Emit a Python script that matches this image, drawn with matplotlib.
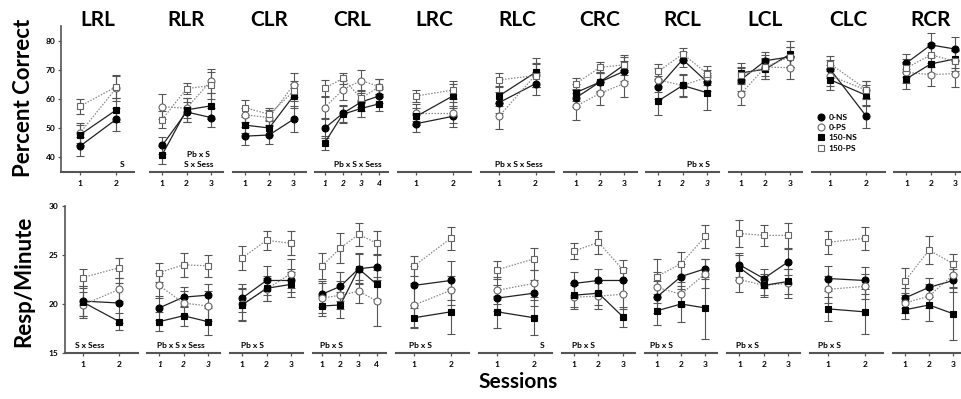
import matplotlib
matplotlib.use("Agg")
import matplotlib.pyplot as plt
from matplotlib.lines import Line2D

plt.rcParams['font.family'] = ['Lato', 'DejaVu Sans']

panels = ["LRL", "RLR", "CLR", "CRL", "LRC", "RLC", "CRC", "RCL", "LCL", "CLC", "RCR"]
series = ["0-NS", "0-PS", "150-NS", "150-PS"]

# Percent correct (top row)
pc_0NS = [[43.8, 53.1], [44.1, 55.6, 53.7], [47.3, 47.7, 53.1], [50.0, 55.1, 59.0, 61.1],
          [51.6, 54.1], [58.8, 65.3], [60.4, 65.9, 69.6], [64.1, 73.6, 65.9],
          [66.7, 73.2, 74.5], [70.4, 54.1], [72.4, 78.6, 77.2]]
pc_0PS = [[48.3, 63.8], [57.4, 56.9, 66.2], [54.6, 53.7, 64.9], [57.1, 63.2, 66.4, 64.3],
          [55.4, 55.4], [54.1, 68.3], [57.5, 62.0, 65.4], [66.6, 64.7, 67.5],
          [61.9, 71.0, 70.8], [68.1, 63.1], [69.2, 68.4, 68.8]]
pc_150NS = [[47.7, 56.3], [40.9, 56.3, 57.7], [51.1, 50.1, 61.1], [44.9, 54.8, 56.8, 58.4],
            [54.1, 61.1], [61.1, 69.2], [62.2, 65.9, 71.8], [59.4, 64.7, 62.2],
            [69.0, 70.3, 75.4], [66.7, 61.3], [67.0, 72.1, 73.8]]
pc_150PS = [[57.5, 64.3], [53.0, 63.6, 64.7], [57.1, 54.8, 62.7], [63.7, 67.1, 60.3, 64.3],
            [61.1, 63.1], [66.6, 68.1], [65.3, 70.9, 71.8], [69.5, 75.5, 68.8],
            [68.2, 71.0, 74.5], [72.2, 63.3], [70.7, 75.2, 73.0]]

pc_err_0NS = [[3.2, 4.0], [2.8, 3.5, 3.3], [3.0, 3.0, 4.5], [3.5, 3.0, 3.0, 2.5], [3.0, 3.5],
              [3.5, 4.0], [3.0, 3.5, 3.5], [4.0, 2.5, 3.0], [4.0, 3.0, 3.5], [3.0, 4.0], [3.0, 4.0, 4.0]]
pc_err_0PS = [[3.5, 4.5], [4.2, 3.5, 4.0], [2.5, 2.5, 4.0], [4.0, 3.5, 3.5, 2.5], [3.0, 3.5],
              [4.5, 4.0], [4.5, 4.0, 4.5], [4.0, 3.5, 2.5], [4.0, 4.0, 4.0], [3.5, 3.0], [3.5, 4.0, 4.5]]
pc_err_150NS = [[3.5, 4.0], [3.0, 4.0, 4.5], [2.8, 2.5, 4.0], [2.5, 3.0, 3.0, 2.5], [3.0, 4.0],
                [3.5, 5.0], [3.0, 3.0, 3.5], [5.0, 4.0, 6.0], [3.5, 3.5, 4.5], [3.5, 3.5], [3.5, 3.0, 3.0]]
pc_err_150PS = [[2.7, 3.8], [3.0, 2.0, 4.5], [2.5, 2.0, 3.5], [3.0, 2.0, 3.0, 2.5], [2.0, 3.0],
                [2.5, 4.0], [2.0, 2.0, 2.5], [2.5, 2.0, 2.5], [3.0, 3.0, 3.5], [2.5, 3.0], [3.0, 4.0, 3.5]]

# Responses per minute (bottom row)
rm_0NS = [[20.3, 20.1], [19.6, 20.7, 20.9], [20.6, 22.4, 22.4], [21.0, 21.8, 23.6, 23.8],
          [21.9, 22.4], [20.6, 21.1], [22.1, 22.4, 22.4], [20.7, 22.8, 23.6],
          [24.0, 22.6, 24.3], [22.6, 22.4], [20.6, 21.7, 22.4]]
rm_0PS = [[19.9, 21.5], [21.9, 20.1, 19.8], [20.0, 21.5, 23.1], [20.6, 20.9, 21.3, 20.3],
          [19.9, 21.4], [21.4, 22.1], [20.7, 20.8, 21.0], [21.7, 21.0, 23.1],
          [22.5, 21.9, 22.1], [21.5, 21.8], [20.1, 20.8, 23.0]]
rm_150NS = [[20.2, 18.2], [18.2, 18.8, 18.2], [19.9, 21.6, 22.0], [19.8, 19.9, 23.6, 22.0],
            [18.6, 19.2], [19.2, 18.6], [20.9, 21.1, 18.7], [19.3, 20.0, 19.6],
            [23.7, 21.9, 22.3], [19.5, 19.2], [19.4, 19.9, 19.0]]
rm_150PS = [[22.7, 23.7], [23.2, 24.0, 23.9], [24.7, 26.5, 26.2], [23.9, 25.7, 27.1, 26.2],
            [23.9, 26.7], [23.5, 24.6], [25.4, 26.3, 23.5], [22.8, 24.1, 26.9],
            [27.2, 27.0, 27.0], [26.3, 26.7], [22.3, 25.5, 24.1]]

rm_err_0NS = [[1.5, 2.0], [1.2, 1.0, 1.1], [1.4, 1.5, 1.2], [1.3, 1.5, 1.5, 1.3], [2.0, 2.0],
              [1.3, 1.3], [1.2, 1.2, 1.3], [1.6, 1.3, 1.0], [1.2, 1.0, 1.3], [1.3, 1.4], [1.0, 1.0, 1.2]]
rm_err_0PS = [[1.3, 1.2], [1.3, 1.2, 1.5], [1.6, 1.2, 1.5], [1.5, 1.4, 1.2, 2.5], [2.2, 1.5],
              [1.4, 1.4], [1.2, 1.3, 1.5], [1.6, 1.2, 1.5], [1.3, 1.0, 1.5], [1.4, 1.3], [1.0, 1.2, 1.4]]
rm_err_150NS = [[1.4, 0.9], [1.0, 1.0, 1.4], [1.6, 1.3, 1.3], [1.0, 1.3, 1.6, 1.5], [1.0, 2.3],
                [1.6, 1.8], [1.2, 1.2, 1.0], [1.4, 1.8, 3.2], [1.3, 1.2, 1.3], [1.2, 2.3], [0.9, 1.6, 2.7]]
rm_err_150PS = [[0.9, 1.0], [1.0, 1.2, 1.1], [1.2, 1.0, 1.2], [1.3, 1.5, 1.2, 1.2], [1.0, 1.2],
                [0.9, 1.1], [0.8, 1.2, 1.0], [1.8, 1.2, 1.2], [1.4, 1.1, 1.3], [1.2, 1.2], [1.4, 1.4, 1.0]]

pc_stats = ["S", "Pb x S\nS x Sess", "", "Pb x S x Sess", "", "Pb x S x Sess", "", "Pb x S", "", "", ""]
rm_stats = ["S x Sess", "Pb x S x Sess", "Pb x S", "Pb x S", "Pb x S", "S", "Pb x S", "Pb x S", "Pb x S", "Pb x S", ""]
pc_italic = [False, False, False, True, False, False, False, True, False, False, False]
rm_italic = [False, True, False, False, False, False, False, False, False, False, False]

# ---------------- layout ----------------
W, H = 962, 399
fig = plt.figure(figsize=(W / 100, H / 100), dpi=100)

top_left = [61.5, 150, 232.7, 315.4, 398.1, 480.8, 563.5, 646.2, 728.9, 811.6, 894.3]
bot_left = [64.5, 147, 230, 313, 396, 479, 562, 644.5, 727.3, 810, 892.5]
pw = 73.0
top_y0, top_y1 = 172.0, 26.3
bot_y0, bot_y1 = 353.0, 206.0

pc_stat_x = [0.83, 0.67, 0.5, 0.58, 0.5, 0.52, 0.5, 0.71, 0.5, 0.5, 0.5]
rm_stat_x = [0.35, 0.47, 0.31, 0.25, 0.34, 0.86, 0.29, 0.23, 0.27, 0.27, 0.5]

styles = {
    "0-NS": dict(marker='o', mfc='black', mec='black', color='#222222', ls='-'),
    "0-PS": dict(marker='o', mfc='white', mec='#666666', color='#888888', ls=(0, (1.2, 1.2))),
    "150-NS": dict(marker='s', mfc='black', mec='black', color='#222222', ls='-'),
    "150-PS": dict(marker='s', mfc='white', mec='#666666', color='#888888', ls=(0, (1.2, 1.2))),
}
ecol = '#555555'
axcol = '#555555'
MS = 5.0


def make_axes(left, y0, y1):
    return fig.add_axes([left / W, 1 - y0 / H, pw / W, (y0 - y1) / H])


def draw_row(lefts, y0, y1, data, errs, ylim, yticks, stats, stat_x, italic):
    axes = []
    for i, name in enumerate(panels):
        ax = make_axes(lefts[i], y0, y1)
        n = len(data[0][i])
        xs = list(range(1, n + 1))
        for s, vals, ee in zip(series, data, errs):
            st = styles[s]
            ax.errorbar(xs, vals[i], yerr=ee[i], fmt='none', ecolor=ecol, elinewidth=0.8,
                        capsize=2.6, capthick=0.8, zorder=2)
            ax.plot(xs, vals[i], color=st['color'], ls=st['ls'], lw=0.9, zorder=3)
            ax.plot(xs, vals[i], ls='none', marker=st['marker'], ms=MS, mfc=st['mfc'],
                    mec=st['mec'], mew=0.8, zorder=4)
        ax.set_xlim(0.5, n + 0.5)
        ax.set_ylim(*ylim)
        ax.set_xticks(xs)
        ax.set_xticklabels([str(x) for x in xs], fontsize=6, fontweight='bold',
                           fontstyle='italic' if italic[i] else 'normal')
        ax.tick_params(axis='x', length=2.5, width=0.9, color=axcol, pad=3)
        ax.patch.set_alpha(0)
        for sp in ['top', 'right']:
            ax.spines[sp].set_visible(False)
        ax.spines['bottom'].set_color(axcol)
        ax.spines['bottom'].set_linewidth(1.5)
        if i == 0:
            ax.spines['left'].set_color(axcol)
            ax.spines['left'].set_linewidth(1.2)
            ax.set_yticks(yticks)
            ax.set_yticklabels([str(t) for t in yticks], fontsize=6, fontweight='bold')
            ax.tick_params(axis='y', length=2.5, width=0.9, color=axcol, pad=2)
        else:
            ax.spines['left'].set_visible(False)
            ax.set_yticks([])
        if stats[i]:
            ax.text(stat_x[i], 0.025, stats[i], transform=ax.transAxes, ha='center', va='bottom',
                    fontsize=6, fontweight='bold', linespacing=1.5)
        axes.append(ax)
    return axes


top_axes = draw_row(top_left, top_y0, top_y1, [pc_0NS, pc_0PS, pc_150NS, pc_150PS],
                    [pc_err_0NS, pc_err_0PS, pc_err_150NS, pc_err_150PS], (35, 85),
                    [40, 50, 60, 70, 80], pc_stats, pc_stat_x, pc_italic)
bot_axes = draw_row(bot_left, bot_y0, bot_y1, [rm_0NS, rm_0PS, rm_150NS, rm_150PS],
                    [rm_err_0NS, rm_err_0PS, rm_err_150NS, rm_err_150PS], (15, 30),
                    [15, 20, 25, 30], rm_stats, rm_stat_x, rm_italic)

for i, name in enumerate(panels):
    cx = (top_left[i] + pw / 2) / W
    fig.text(cx, 1 - 20 / H, name, ha='center', va='center', fontsize=15, fontweight='bold')

fig.text(24 / W, 1 - 98 / H, "Percent Correct", rotation=90, ha='center', va='center',
         fontsize=16, fontweight='bold')
fig.text(24 / W, 1 - 281 / H, "Resp/Minute", rotation=90, ha='center', va='center',
         fontsize=16, fontweight='bold')
fig.text(518 / W, 1 - 382 / H, "Sessions", ha='center', va='center', fontsize=15, fontweight='bold')

# legend in CLC (top)
handles = []
for s in series:
    st = styles[s]
    handles.append(Line2D([], [], ls='none', marker=st['marker'], ms=MS, mfc=st['mfc'],
                          mec=st['mec'], mew=0.8))
leg = top_axes[9].legend(handles, series, loc='upper left', bbox_to_anchor=(0.08, 0.40),
                         frameon=False, fontsize=6, handlelength=0.8, handletextpad=0.5,
                         labelspacing=0.4, borderaxespad=0, borderpad=0)
for t in leg.get_texts():
    t.set_fontweight('bold')

fig.savefig("out.png", dpi=100)
